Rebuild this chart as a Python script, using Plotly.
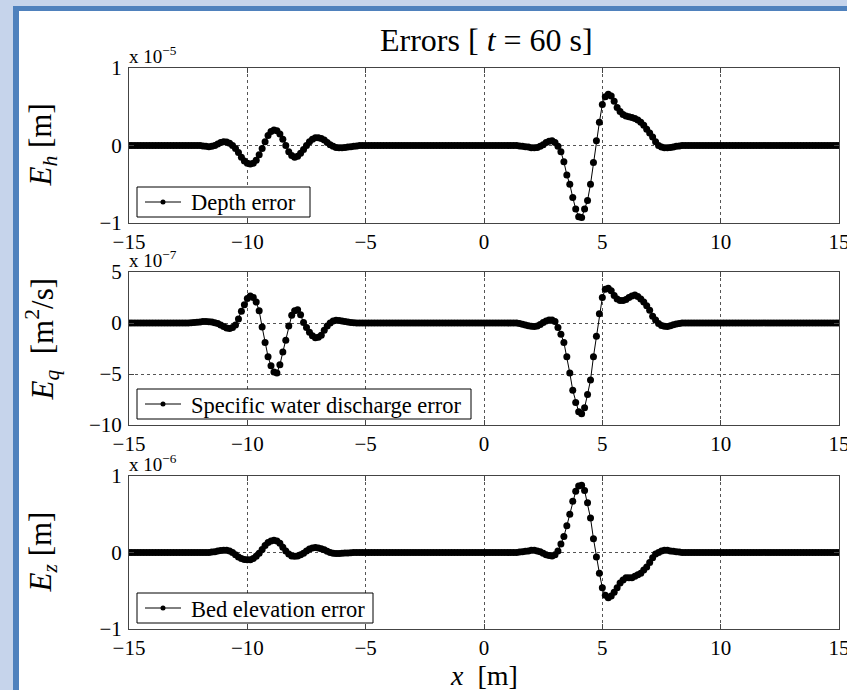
import numpy as np
import plotly.graph_objects as go

# Node positions along the channel [m]
x_nodes = np.linspace(-15, 15, 241)

# Depth error, in units of 1e-5 m (8 nodes per metre)
depth_err = [
    0, 0, 0, 0, 0, 0, 0, 0,                                   # -15
    0, 0, 0, 0, 0, 0, 0, 0,                                   # -14
    0, 0, 0, 0, 0, 0, 0, 0,                                   # -13
    0, -0.005, -0.01, -0.015, -0.01, 0.0, 0.02, 0.04,          # -12
    0.05, 0.045, 0.03, 0.0, -0.04, -0.09, -0.15, -0.2,         # -11
    -0.23, -0.24, -0.23, -0.19, -0.12, -0.04, 0.05, 0.13,      # -10
    0.18, 0.2, 0.19, 0.15, 0.08, 0.0, -0.08, -0.13,            # -9
    -0.15, -0.14, -0.1, -0.05, 0.0, 0.05, 0.08, 0.1,           # -8
    0.1, 0.09, 0.07, 0.04, 0.01, -0.01, -0.025, -0.03,         # -7
    -0.03, -0.025, -0.02, -0.015, -0.01, -0.005, 0, 0,         # -6
    0, 0, 0, 0, 0, 0, 0, 0,                                   # -5
    0, 0, 0, 0, 0, 0, 0, 0,                                   # -4
    0, 0, 0, 0, 0, 0, 0, 0,                                   # -3
    0, 0, 0, 0, 0, 0, 0, 0,                                   # -2
    0, 0, 0, 0, 0, 0, 0, 0,                                   # -1
    0, 0, 0, 0, 0, 0, 0, 0,                                   # 0
    0, 0, 0, 0, -0.005, -0.01, -0.015, -0.02,                  # 1
    -0.03, -0.03, -0.025, -0.01, 0.01, 0.04, 0.055, 0.06,      # 2
    0.04, -0.01, -0.08, -0.21, -0.38, -0.5, -0.67, -0.82,      # 3
    -0.92, -0.93, -0.82, -0.71, -0.5, -0.22, 0.06, 0.3,        # 4
    0.53, 0.63, 0.66, 0.64, 0.57, 0.49, 0.44, 0.4,             # 5
    0.38, 0.37, 0.36, 0.35, 0.33, 0.3, 0.26, 0.21,             # 6
    0.16, 0.11, 0.05, 0.0, -0.02, -0.03, -0.03, -0.025,        # 7
    -0.02, -0.01, -0.005, 0, 0, 0, 0, 0,                       # 8
    0, 0, 0, 0, 0, 0, 0, 0,                                   # 9
    0, 0, 0, 0, 0, 0, 0, 0,                                   # 10
    0, 0, 0, 0, 0, 0, 0, 0,                                   # 11
    0, 0, 0, 0, 0, 0, 0, 0,                                   # 12
    0, 0, 0, 0, 0, 0, 0, 0,                                   # 13
    0, 0, 0, 0, 0, 0, 0, 0,                                   # 14
    0,                                                        # 15
]

# Specific water discharge error, in units of 1e-7 m^2/s
discharge_err = [
    0, 0, 0, 0, 0, 0, 0, 0,                                   # -15
    0, 0, 0, 0, 0, 0, 0, 0,                                   # -14
    0, 0, 0, 0, 0.01, 0.03, 0.05, 0.08,                        # -13
    0.11, 0.14, 0.15, 0.13, 0.09, 0.03, -0.06, -0.2,           # -12
    -0.35, -0.5, -0.55, -0.45, -0.2, 0.4, 1.15, 1.8,           # -11
    2.4, 2.65, 2.5, 2.05, 1.2, -0.4, -1.9, -3.3,               # -10
    -4.2, -4.8, -4.9, -4.1, -2.85, -1.7, -0.3, 0.75,           # -9
    1.2, 1.3, 0.8, 0.05, -0.45, -0.9, -1.25, -1.45,            # -8
    -1.4, -1.2, -0.7, -0.3, 0.0, 0.2, 0.27, 0.25,              # -7
    0.2, 0.15, 0.1, 0.05, 0.02, 0, 0, 0,                       # -6
    0, 0, 0, 0, 0, 0, 0, 0,                                   # -5
    0, 0, 0, 0, 0, 0, 0, 0,                                   # -4
    0, 0, 0, 0, 0, 0, 0, 0,                                   # -3
    0, 0, 0, 0, 0, 0, 0, 0,                                   # -2
    0, 0, 0, 0, 0, 0, 0, 0,                                   # -1
    0, 0, 0, 0, 0, 0, 0, 0,                                   # 0
    0, 0, 0, 0, -0.05, -0.12, -0.2, -0.28,                     # 1
    -0.33, -0.35, -0.3, -0.15, 0.05, 0.2, 0.3, 0.3,            # 2
    0.15, -0.45, -1.1, -1.9, -3.3, -4.9, -6.6, -7.8,           # 3
    -8.7, -8.9, -8.3, -7.0, -5.6, -3.3, -1.3, 0.9,             # 4
    2.5, 3.3, 3.4, 3.15, 2.7, 2.35, 2.2, 2.2,                  # 5
    2.3, 2.5, 2.65, 2.75, 2.6, 2.35, 2.05, 1.7,                # 6
    1.25, 0.65, 0.3, -0.05, -0.24, -0.32, -0.34, -0.28,        # 7
    -0.17, -0.1, -0.05, 0, 0, 0, 0, 0,                         # 8
    0, 0, 0, 0, 0, 0, 0, 0,                                   # 9
    0, 0, 0, 0, 0, 0, 0, 0,                                   # 10
    0, 0, 0, 0, 0, 0, 0, 0,                                   # 11
    0, 0, 0, 0, 0, 0, 0, 0,                                   # 12
    0, 0, 0, 0, 0, 0, 0, 0,                                   # 13
    0, 0, 0, 0, 0, 0, 0, 0,                                   # 14
    0,                                                        # 15
]

# Bed elevation error, in units of 1e-6 m
bed_err = [
    0, 0, 0, 0, 0, 0, 0, 0,                                   # -15
    0, 0, 0, 0, 0, 0, 0, 0,                                   # -14
    0, 0, 0, 0, 0, 0, 0, 0,                                   # -13
    0, 0, 0, 0, 0.005, 0.01, 0.02, 0.025,                      # -12
    0.03, 0.03, 0.02, 0.0, -0.03, -0.06, -0.08, -0.09,         # -11
    -0.095, -0.095, -0.08, -0.05, -0.01, 0.04, 0.09, 0.13,     # -10
    0.15, 0.16, 0.15, 0.12, 0.07, 0.02, -0.02, -0.045,         # -9
    -0.05, -0.045, -0.03, -0.01, 0.02, 0.045, 0.06, 0.065,     # -8
    0.06, 0.05, 0.035, 0.015, 0.0, -0.01, -0.013, -0.012,      # -7
    -0.01, -0.008, -0.005, -0.003, 0, 0, 0, 0,                 # -6
    0, 0, 0, 0, 0, 0, 0, 0,                                   # -5
    0, 0, 0, 0, 0, 0, 0, 0,                                   # -4
    0, 0, 0, 0, 0, 0, 0, 0,                                   # -3
    0, 0, 0, 0, 0, 0, 0, 0,                                   # -2
    0, 0, 0, 0, 0, 0, 0, 0,                                   # -1
    0, 0, 0, 0, 0, 0, 0, 0,                                   # 0
    0, 0, 0, 0, 0.005, 0.01, 0.015, 0.02,                      # 1
    0.03, 0.03, 0.02, 0.01, -0.01, -0.03, -0.04, -0.045,       # 2
    -0.03, 0.02, 0.11, 0.21, 0.35, 0.5, 0.67, 0.8,             # 3
    0.87, 0.88, 0.81, 0.65, 0.45, 0.18, -0.06, -0.27,          # 4
    -0.46, -0.56, -0.59, -0.57, -0.52, -0.46, -0.4, -0.36,     # 5
    -0.33, -0.33, -0.33, -0.31, -0.29, -0.27, -0.23, -0.19,    # 6
    -0.13, -0.07, -0.02, 0.0, 0.02, 0.03, 0.03, 0.02,          # 7
    0.015, 0.01, 0.005, 0, 0, 0, 0, 0,                         # 8
    0, 0, 0, 0, 0, 0, 0, 0,                                   # 9
    0, 0, 0, 0, 0, 0, 0, 0,                                   # 10
    0, 0, 0, 0, 0, 0, 0, 0,                                   # 11
    0, 0, 0, 0, 0, 0, 0, 0,                                   # 12
    0, 0, 0, 0, 0, 0, 0, 0,                                   # 13
    0, 0, 0, 0, 0, 0, 0, 0,                                   # 14
    0,                                                        # 15
]

x_ticks = [-15, -10, -5, 0, 5, 10, 15]
panels = [
    dict(y=depth_err, name="Depth error", yrange=[-1, 1], yticks=[-1, 0, 1],
         exp="\u22125", ylabel="<i>E</i><sub><i>h</i></sub> [m]",
         legend_w=173, label_dy=0),
    dict(y=discharge_err, name="Specific water discharge error", yrange=[-10, 5],
         yticks=[-10, -5, 0, 5], exp="\u22127",
         ylabel="<i>E</i><sub><i>q</i></sub>  [m<sup>2</sup>/s]",
         legend_w=334, label_dy=-9),
    dict(y=bed_err, name="Bed elevation error", yrange=[-1, 1], yticks=[-1, 0, 1],
         exp="\u22126", ylabel="<i>E</i><sub><i>z</i></sub> [m]",
         legend_w=236, label_dy=0),
]

W, H = 847, 690
SERIF = "Liberation Serif, Times New Roman, serif"
AXIS_COL = "#444444"
X_LEFT, X_RIGHT = 129, 839
PANEL_PX = [(68, 223), (272, 425), (476, 629)]


def fx(px):
    return px / W


def fy(py):
    return 1 - py / H


fig = go.Figure()
annotations = []

# slide-style frame: pale blue surround, blue border, white page
shapes = [
    dict(type="rect", xref="paper", yref="paper", layer="below",
         x0=fx(13), x1=1.2, y0=-0.2, y1=fy(6),
         fillcolor="#4f81bd", line=dict(width=0)),
    dict(type="rect", xref="paper", yref="paper", layer="below",
         x0=fx(19), x1=1.2, y0=-0.2, y1=fy(11),
         fillcolor="white", line=dict(width=0)),
]

for i, p in enumerate(panels):
    top, bot = PANEL_PX[i]
    sfx = "" if i == 0 else str(i + 1)
    fig.add_trace(go.Scatter(
        x=x_nodes, y=p["y"], mode="lines+markers", name=p["name"],
        line=dict(color="black", width=1),
        marker=dict(color="black", size=7),
        xaxis="x" + sfx, yaxis="y" + sfx, showlegend=False,
    ))
    axis_common = dict(
        showline=True, linecolor=AXIS_COL, linewidth=1, mirror="allticks",
        ticks="inside", ticklen=5, tickcolor=AXIS_COL, automargin=False,
        showgrid=True, gridcolor="#555555", griddash="dot", gridwidth=1,
        zeroline=False, tickfont=dict(family=SERIF, size=21, color="black"),
        ticklabeloverflow="allow",
    )
    fig.update_layout(**{
        "xaxis" + sfx: dict(
            axis_common, domain=[fx(X_LEFT), fx(X_RIGHT)], range=[-15, 15],
            tickvals=x_ticks, anchor="y" + sfx, ticklabelstandoff=0,
        ),
        "yaxis" + sfx: dict(
            axis_common, domain=[fy(bot), fy(top)], range=p["yrange"],
            tickvals=p["yticks"], anchor="x" + sfx, ticklabelstandoff=2,
        ),
    })

    # compact legend box in the lower-left corner of each panel
    lb_bot, lb_top = bot - 6, bot - 36
    lb_mid = (lb_bot + lb_top) / 2
    lb_left = 137
    shapes.append(dict(
        type="rect", xref="paper", yref="paper", layer="above",
        x0=fx(lb_left), x1=fx(lb_left + p["legend_w"]),
        y0=fy(lb_bot), y1=fy(lb_top),
        fillcolor="white", line=dict(color="black", width=1),
    ))
    shapes.append(dict(
        type="line", xref="paper", yref="paper", layer="above",
        x0=fx(lb_left + 8), x1=fx(lb_left + 44), y0=fy(lb_mid), y1=fy(lb_mid),
        line=dict(color="black", width=1),
    ))
    shapes.append(dict(
        type="circle", xref="paper", yref="paper", layer="above",
        x0=fx(lb_left + 23.5), x1=fx(lb_left + 28.5),
        y0=fy(lb_mid + 2.5), y1=fy(lb_mid - 2.5),
        fillcolor="black", line=dict(color="black", width=0),
    ))
    annotations.append(dict(
        text=p["name"], x=fx(lb_left + 52), y=fy(lb_mid + 1),
        xref="paper", yref="paper", xanchor="left", yanchor="middle",
        showarrow=False, font=dict(family=SERIF, size=22.5, color="black"),
    ))

    # scale factor written above the top-left corner of each panel
    annotations.append(dict(
        text="x 10<sup>" + p["exp"] + "</sup>", x=fx(127), y=fy(top - 13),
        xref="paper", yref="paper", xanchor="left", yanchor="middle",
        showarrow=False, font=dict(family=SERIF, size=19, color="black"),
    ))
    annotations.append(dict(
        text=p["ylabel"], x=fx(42), y=fy((top + bot) / 2 + p["label_dy"]),
        xref="paper", yref="paper", xanchor="center", yanchor="middle",
        textangle=-90, showarrow=False,
        font=dict(family=SERIF, size=31, color="black"),
    ))

annotations.append(dict(
    text="Errors [ <i>t</i> = 60 s]", x=fx((X_LEFT + X_RIGHT) / 2 + 2), y=fy(40),
    xref="paper", yref="paper", xanchor="center", yanchor="middle",
    showarrow=False, font=dict(family=SERIF, size=32, color="black"),
))
annotations.append(dict(
    text="<i>x</i>  [m]", x=fx((X_LEFT + X_RIGHT) / 2), y=fy(675),
    xref="paper", yref="paper", xanchor="center", yanchor="middle",
    showarrow=False, font=dict(family=SERIF, size=28, color="black"),
))

fig.update_layout(
    width=W, height=H, margin=dict(l=0, r=0, t=0, b=0, pad=0),
    paper_bgcolor="#c6d4eb", plot_bgcolor="white",
    showlegend=False, annotations=annotations, shapes=shapes,
    font=dict(family=SERIF, color="black"),
)

fig.write_html("out.html")
